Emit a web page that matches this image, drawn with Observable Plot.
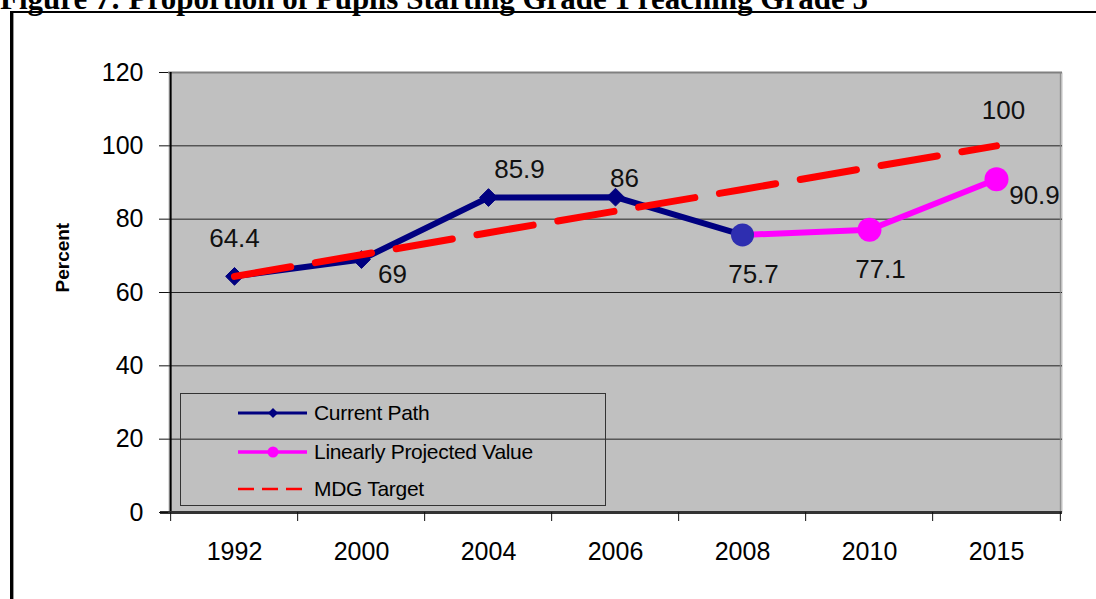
<!DOCTYPE html>
<html><head><meta charset="utf-8">
<script src="https://cdn.jsdelivr.net/npm/d3@7"></script>
<script src="https://cdn.jsdelivr.net/npm/@observablehq/plot@0.6"></script>
<style>
body{margin:0;background:#fff;}
#wrap{position:relative;width:1096px;height:599px;overflow:hidden;font-family:"Liberation Sans",Arial,sans-serif;}
#wrap svg.main{position:absolute;left:0;top:0;}
#title{position:absolute;left:0;top:-17px;font:bold 31px/31px "Liberation Serif","Times New Roman",serif;white-space:nowrap;color:#000;}
#box{position:absolute;left:10px;top:11px;width:1200px;height:700px;border-top:2px solid #000;border-left:3px solid #000;box-shadow:inset 1px 0 0 #999;}
#legend{position:absolute;left:180px;top:393px;width:426px;height:113px;border:1px solid #333;box-sizing:border-box;}
#legend .row{position:absolute;left:0;height:30px;width:420px;}
#legend svg{position:absolute;left:57px;top:0;}
#legend span{position:absolute;left:133px;top:3px;font:21px/24px "Liberation Sans",Arial,sans-serif;color:#000;letter-spacing:-0.3px;white-space:nowrap;}
</style></head><body>
<div id="wrap"></div>
<script>
// ---- data ----
const years = ["1992", "2000", "2004", "2006", "2008", "2010", "2015"];
const currentYears = ["1992", "2000", "2004", "2006", "2008"];
const currentValues = [64.4, 69, 85.9, 86, 75.7];
const projectedYears = ["2008", "2010", "2015"];
const projectedValues = [75.7, 77.1, 90.9];
const targetValues = [64.4, 70.3, 76.3, 82.2, 88.1, 94.1, 100];
const yTicks = [0, 20, 40, 60, 80, 100, 120];
const gridTicks = [20, 40, 60, 80, 100];
const seriesNames = ["Current Path", "Linearly Projected Value", "MDG Target"];
const titleText = "Figure 7: Proportion of Pupils Starting Grade 1 reaching Grade 5";
const yLabel = "Percent";

const current = currentYears.map((year, i) => ({year, value: currentValues[i]}));
const projected = projectedYears.map((year, i) => ({year, value: projectedValues[i]}));
const target = years.map((year, i) => ({year, value: targetValues[i]}));

const W = 1096, H = 599, mL = 168, mR = 34, mT = 72, mB = 87;
const step = (W - mL - mR) / years.length;

const NAVY = "#000080", PINK = "#FF00FF", RED = "#FF0000", BLUE_DOT = "#2E2EB0";
const labelFont = {fontSize: 26, fill: "#111"};

const chart = Plot.plot({
  width: W, height: H,
  marginLeft: mL, marginRight: mR, marginTop: mT, marginBottom: mB,
  style: {fontFamily: "'Liberation Sans', Arial, sans-serif", fontSize: "25px", background: "transparent", color: "#000"},
  x: {type: "point", domain: years, padding: 0.5, align: 0.5},
  y: {domain: [0, 120]},
  marks: [
    Plot.frame({fill: "#C0C0C0", stroke: null}),
    Plot.ruleY([120], {stroke: "#808080", strokeWidth: 2}),
    Plot.gridY(gridTicks, {stroke: "#222", strokeOpacity: 1, strokeWidth: 1}),
    Plot.ruleX([years[0]], {dx: -step / 2, y1: 0, y2: 120, stroke: "#000", strokeWidth: 2}),
    Plot.ruleX([years[years.length - 1]], {dx: step / 2, y1: 0, y2: 120, stroke: "#888", strokeWidth: 1}),
    Plot.ruleY([0], {stroke: "#333", strokeWidth: 3, insetLeft: -8}),
    Plot.axisY(yTicks, {tickSize: 9, tickPadding: 16, label: null, fontSize: 25, stroke: "#111"}),
    Plot.axisX({tickSize: 9, tickFormat: () => "", dx: -step / 2, label: null, stroke: "#111"}),
    Plot.axisX([years[years.length - 1]], {tickSize: 9, tickFormat: () => "", dx: step / 2, label: null, stroke: "#111"}),
    Plot.axisX({tickSize: 0, tickPadding: 30, label: null, fontSize: 25}),
    Plot.text([yLabel], {text: d => d, frameAnchor: "left", dx: -106, rotate: -90, fontSize: 19, fontWeight: "bold"}),
    // series
    Plot.line(current, {x: "year", y: "value", stroke: NAVY, strokeWidth: 6}),
    Plot.line(projected, {x: "year", y: "value", stroke: PINK, strokeWidth: 6}),
    Plot.dot(current, {filter: d => d.year !== "2008", x: "year", y: "value", symbol: "diamond2", r: 8, fill: NAVY, stroke: NAVY, strokeWidth: 1}),
    Plot.dot(projected, {filter: d => d.year !== "2008", x: "year", y: "value", r: 12, fill: PINK}),
    Plot.dot(current, {filter: d => d.year === "2008", x: "year", y: "value", r: 11.5, fill: BLUE_DOT}),
    Plot.line(target, {x: "year", y: "value", stroke: RED, strokeWidth: 7, strokeDasharray: "57,25"}),
    // data labels
    Plot.text([current[0]], {x: "year", y: "value", text: d => d.value, dx: 0, dy: -38, ...labelFont}),
    Plot.text([current[1]], {x: "year", y: "value", text: d => d.value, dx: 31, dy: 15, ...labelFont}),
    Plot.text([current[2]], {x: "year", y: "value", text: d => d.value, dx: 31, dy: -28, ...labelFont}),
    Plot.text([current[3]], {x: "year", y: "value", text: d => d.value, dx: 9, dy: -18, ...labelFont}),
    Plot.text([current[4]], {x: "year", y: "value", text: d => d.value, dx: 11, dy: 40, ...labelFont}),
    Plot.text([projected[1]], {x: "year", y: "value", text: d => d.value, dx: 11, dy: 40, ...labelFont}),
    Plot.text([projected[2]], {x: "year", y: "value", text: d => d.value, dx: 38, dy: 16, ...labelFont}),
    Plot.text([target[target.length - 1]], {x: "year", y: "value", text: d => d.value, dx: 7, dy: -35, ...labelFont})
  ]
});
chart.classList.add("main");

const wrap = document.getElementById("wrap");
wrap.appendChild(chart);

const title = document.createElement("div");
title.id = "title";
title.textContent = titleText;
wrap.appendChild(title);

const box = document.createElement("div");
box.id = "box";
wrap.appendChild(box);

// legend (drawn over the plot area, transparent so grid shows through)
const legend = document.createElement("div");
legend.id = "legend";
const rowTops = [4, 43, 80];
const samples = [
  `<line x1="0" y1="15" x2="69" y2="15" stroke="${NAVY}" stroke-width="3"/><path d="M35,10 L40,15 L35,20 L30,15 Z" fill="${NAVY}"/>`,
  `<line x1="0" y1="15" x2="69" y2="15" stroke="${PINK}" stroke-width="3.5"/><circle cx="35" cy="15" r="5.5" fill="${PINK}"/>`,
  `<line x1="0" y1="15" x2="69" y2="15" stroke="${RED}" stroke-width="2.5" stroke-dasharray="16,8"/>`
];
seriesNames.forEach((name, i) => {
  const row = document.createElement("div");
  row.className = "row";
  row.style.top = rowTops[i] + "px";
  row.innerHTML = `<svg width="70" height="30">${samples[i]}</svg><span>${name}</span>`;
  legend.appendChild(row);
});
wrap.appendChild(legend);
</script>
</body></html>
